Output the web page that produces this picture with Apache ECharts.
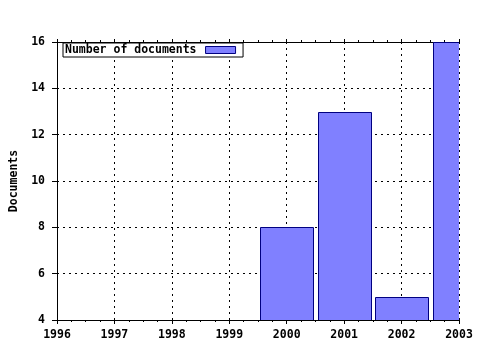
<!DOCTYPE html>
<html><head><meta charset="utf-8">
<script src="https://cdn.jsdelivr.net/npm/echarts@6/dist/echarts.min.js"></script>
<style>html,body{margin:0;padding:0;background:#fff}#c{width:480px;height:350px}</style>
</head><body><div id="c"></div>
<script>
var years = [2000, 2001, 2002, 2003];
var documents = [8, 13, 5, 16];
var xMin = 1996, xMax = 2003;
var yMin = 4, yMax = 16, yStep = 2;
var seriesName = 'Number of documents';
var yTitle = 'Documents';

var font = {fontFamily: 'DejaVu Sans Mono', fontWeight: 'bold', fontSize: 11.5, color: '#000'};
var barFill = '#8080ff', barEdge = '#000080';
var chart = echarts.init(document.getElementById('c'), null, {renderer: 'canvas'});
chart.setOption({
  animation: false,
  backgroundColor: '#fff',
  grid: {left: 57, right: 21, top: 42, bottom: 30, show: false},
  legend: {
    left: 63, top: 43, orient: 'horizontal', align: 'right',
    backgroundColor: '#fff', borderColor: '#000', borderWidth: 1, borderRadius: 0,
    padding: [1, 7, 1, 2], itemWidth: 30, itemHeight: 7, itemGap: 0,
    textStyle: Object.assign({}, font, {padding: [0, 4, 0, 0]}),
    data: [{name: seriesName, icon: 'rect', itemStyle: {color: barFill, borderColor: barEdge, borderWidth: 1}}]
  },
  xAxis: [{
    type: 'value', min: xMin, max: xMax, interval: 1, position: 'bottom',
    axisLine: {show: true, lineStyle: {color: '#000', width: 1}},
    axisTick: {show: true, length: 4, lineStyle: {color: '#000'}},
    minorTick: {show: true, splitNumber: 4, length: 2, lineStyle: {color: '#000'}},
    axisLabel: Object.assign({}, font, {margin: 9, formatter: function(v){return String(v);}}),
    splitLine: {show: true, lineStyle: {color: '#000', type: [2, 4], width: 1}}
  }, {
    type: 'value', min: xMin, max: xMax, interval: 1, position: 'top',
    axisLine: {show: true, lineStyle: {color: '#000', width: 1}},
    axisTick: {show: true, length: 3, lineStyle: {color: '#000'}},
    minorTick: {show: true, splitNumber: 4, length: 2, lineStyle: {color: '#000'}},
    axisLabel: {show: false},
    splitLine: {show: false}
  }],
  yAxis: {
    type: 'value', min: yMin, max: yMax, interval: yStep,
    name: yTitle, nameLocation: 'middle', nameGap: 37, nameRotate: 90,
    nameTextStyle: font,
    axisLine: {show: true, lineStyle: {color: '#000', width: 1}},
    axisTick: {show: true, length: 5, lineStyle: {color: '#000'}},
    axisLabel: Object.assign({}, font, {margin: 12}),
    splitLine: {show: true, lineStyle: {color: '#000', type: [2, 4], width: 1}}
  },
  series: [{
    name: seriesName, type: 'custom', xAxisIndex: 0, clip: true,
    itemStyle: {color: barFill, borderColor: barEdge, borderWidth: 1},
    encode: {x: 0, y: 1},
    data: years.map(function(y, i){ return [y, documents[i]]; }),
    renderItem: function(params, api) {
      var x = api.value(0), v = api.value(1);
      var top = api.coord([x, v]);
      var base = api.coord([x, yMin]);
      var w = api.size([0.92, 0])[0];
      var rect = {x: Math.round(top[0] - w / 2) + 0.5, y: Math.round(top[1]) + 0.5,
                  width: Math.round(w), height: Math.round(base[1] - top[1])};
      var cs = params.coordSys;
      var shape = echarts.graphic.clipRectByRect(rect, {x: cs.x, y: cs.y, width: cs.width + 0.5, height: cs.height + 1});
      if (!shape) return null;
      return {type: 'rect', shape: shape, style: {fill: barFill, stroke: barEdge, lineWidth: 1}};
    }
  }]
});
</script></body></html>
